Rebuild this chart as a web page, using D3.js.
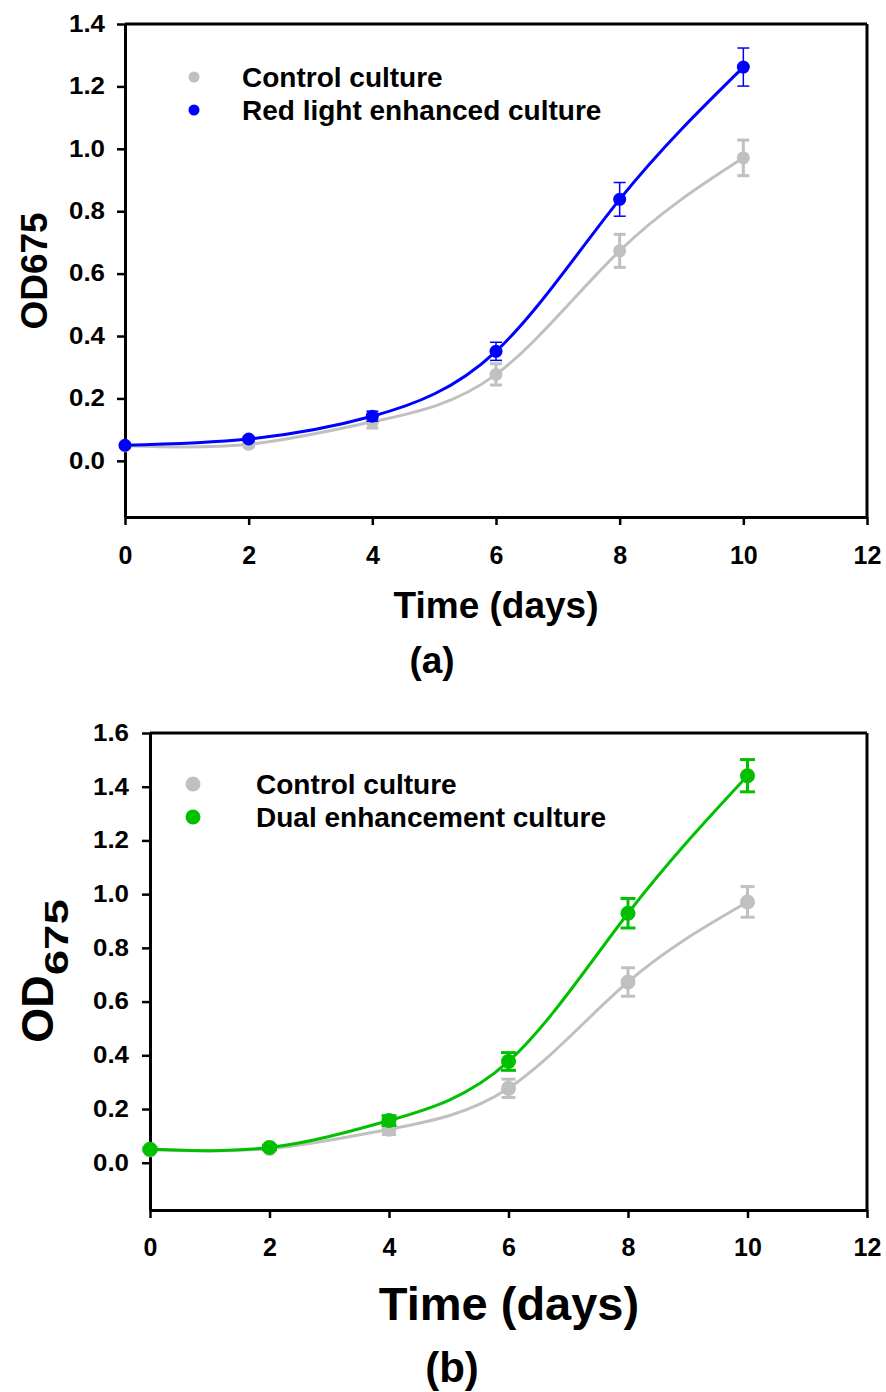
<!DOCTYPE html>
<html>
<head>
<meta charset="utf-8">
<script src="https://cdn.jsdelivr.net/npm/d3@7"></script>
<style>
  body { margin: 0; background: #fff; }
  svg text { font-family: "Liberation Sans", Arial, sans-serif; font-weight: bold; fill: #000; }
</style>
</head>
<body>
<svg id="fig" width="886" height="1392"></svg>
<script>
/*global d3*/
(function () {
    "use strict";

    // sampling days
    var days = [0, 2, 4, 6, 8, 10];
    // OD675, mean and error
    var controlOD = [0.048, 0.053, 0.125, 0.277, 0.673, 0.971];
    var controlErr = [0.006, 0.008, 0.02, 0.034, 0.053, 0.057];
    var redLightOD = [0.05, 0.07, 0.143, 0.351, 0.838, 1.262];
    var redLightErr = [0.006, 0.008, 0.016, 0.029, 0.054, 0.061];
    var dualOD = [0.05, 0.057, 0.157, 0.377, 0.929, 1.441];
    var dualErr = [0.006, 0.008, 0.018, 0.033, 0.055, 0.06];
    var xTicks = [0, 2, 4, 6, 8, 10, 12];
    var yTicksA = [0, 0.2, 0.4, 0.6, 0.8, 1.0, 1.2, 1.4];
    var yTicksB = [0, 0.2, 0.4, 0.6, 0.8, 1.0, 1.2, 1.4, 1.6];

    var svg = d3.select("#fig");

    function rows(vals, errs) {
        return days.map(function (d, i) { return { day: d, v: vals[i], e: errs[i] }; });
    }

    function panel(p) {
        var g = svg.append("g");
        var x = d3.scaleLinear().domain([0, 12]).range([p.left, p.right]);
        var y = d3.scaleLinear().domain(p.yDomain).range([p.bottom, p.top]);

        // frame top and right
        g.append("line").attr("x1", p.left).attr("x2", p.right).attr("y1", p.top).attr("y2", p.top)
            .attr("stroke", "#000").attr("stroke-width", 3);
        g.append("line").attr("x1", p.right).attr("x2", p.right).attr("y1", p.top).attr("y2", p.bottom)
            .attr("stroke", "#000").attr("stroke-width", 3);

        var ya = g.append("g")
            .attr("transform", "translate(" + p.left + ",0)")
            .call(d3.axisLeft(y).tickValues(p.yTicks).tickFormat(d3.format(".1f"))
                .tickSizeInner(8).tickSizeOuter(0).tickPadding(p.yPad));
        var xa = g.append("g")
            .attr("transform", "translate(0," + p.bottom + ")")
            .call(d3.axisBottom(x).tickValues(xTicks).tickFormat(d3.format("d"))
                .tickSizeInner(8).tickSizeOuter(0).tickPadding(p.xPad));
        [ya, xa].forEach(function (a) {
            a.select(".domain").attr("stroke", "#000").attr("stroke-width", 3);
            a.selectAll(".tick line").attr("stroke", "#000").attr("stroke-width", 2.5);
            a.selectAll("text").attr("font-family", null);
        });
        ya.selectAll("text").style("font-size", "23px")
            .attr("textLength", 36).attr("lengthAdjust", "spacingAndGlyphs");
        xa.selectAll("text").style("font-size", "25px");

        var line = d3.line()
            .x(function (d) { return x(d.day); })
            .y(function (d) { return y(d.v); })
            .curve(d3.curveNatural);

        p.series.forEach(function (s) {
            var data = rows(s.vals, s.errs);
            var sg = g.append("g");
            sg.append("path").datum(data)
                .attr("d", line).attr("fill", "none")
                .attr("stroke", s.color).attr("stroke-width", 3);
            var eb = sg.selectAll(".err").data(data).enter().append("g")
                .attr("stroke", s.color).attr("stroke-width", s.errWidth);
            eb.append("line")
                .attr("x1", function (d) { return x(d.day); })
                .attr("x2", function (d) { return x(d.day); })
                .attr("y1", function (d) { return y(d.v - d.e); })
                .attr("y2", function (d) { return y(d.v + d.e); });
            [-1, 1].forEach(function (sgn) {
                eb.append("line")
                    .attr("x1", function (d) { return x(d.day) - s.cap; })
                    .attr("x2", function (d) { return x(d.day) + s.cap; })
                    .attr("y1", function (d) { return y(d.v + sgn * d.e); })
                    .attr("y2", function (d) { return y(d.v + sgn * d.e); });
            });
            sg.selectAll("circle").data(data).enter().append("circle")
                .attr("cx", function (d) { return x(d.day); })
                .attr("cy", function (d) { return y(d.v); })
                .attr("r", s.r).attr("fill", s.color);
        });

        // legend
        p.series.forEach(function (s, i) {
            var ly = p.legendY + i * p.legendStep;
            g.append("circle").attr("cx", p.legendDotX).attr("cy", ly).attr("r", s.lr).attr("fill", s.color);
            g.append("text").attr("x", p.legendTextX).attr("y", ly + 10)
                .style("font-size", "28px").text(s.name);
        });
        return g;
    }

    var gray = "#c0c0c0";

    panel({
        left: 125, right: 867, top: 24, bottom: 517,
        yDomain: [-0.18, 1.4], yTicks: yTicksA, yPad: 12, xPad: 21,
        legendY: 77, legendStep: 33, legendDotX: 194, legendTextX: 242,
        series: [
            { name: "Control culture", vals: controlOD, errs: controlErr, color: gray, errWidth: 3, cap: 6, r: 6.5, lr: 5.5 },
            { name: "Red light enhanced culture", vals: redLightOD, errs: redLightErr, color: "#0000ff", errWidth: 1.5, cap: 6, r: 6.5, lr: 5.5 }
        ]
    });

    panel({
        left: 150, right: 867, top: 733, bottom: 1210,
        yDomain: [-0.176, 1.6], yTicks: yTicksB, yPad: 13, xPad: 20,
        legendY: 784, legendStep: 33, legendDotX: 193, legendTextX: 256,
        series: [
            { name: "Control culture", vals: controlOD, errs: controlErr, color: gray, errWidth: 3, cap: 7, r: 7.5, lr: 7.5 },
            { name: "Dual enhancement culture", vals: dualOD, errs: dualErr, color: "#00c000", errWidth: 3, cap: 7.5, r: 7.5, lr: 7.5 }
        ]
    });

    // titles
    svg.append("text").attr("transform", "translate(47,271) rotate(-90)")
        .attr("text-anchor", "middle").style("font-size", "37px").text("OD675");
    svg.append("text").attr("x", 496).attr("y", 618).attr("text-anchor", "middle")
        .style("font-size", "37px").text("Time (days)");
    svg.append("text").attr("x", 432).attr("y", 673).attr("text-anchor", "middle")
        .style("font-size", "37px").text("(a)");

    var od = svg.append("text").attr("transform", "translate(53,971) rotate(-90)")
        .attr("text-anchor", "middle");
    od.append("tspan").style("font-size", "45px").text("OD");
    od.append("tspan").attr("dy", 15).style("font-size", "33px")
        .attr("textLength", 76).attr("lengthAdjust", "spacingAndGlyphs").text("675");
    svg.append("text").attr("x", 509).attr("y", 1320).attr("text-anchor", "middle")
        .style("font-size", "47px").text("Time (days)");
    svg.append("text").attr("x", 452).attr("y", 1382).attr("text-anchor", "middle")
        .style("font-size", "42px").text("(b)");
}());
</script>
</body>
</html>
